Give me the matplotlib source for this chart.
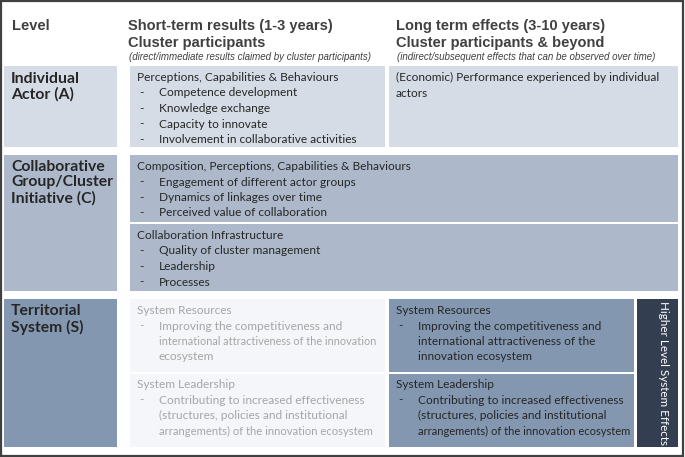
import matplotlib
matplotlib.use("Agg")
import matplotlib.pyplot as plt
from matplotlib.patches import Rectangle

# ---- content ----
level_header = "Level"
short_header = ["Short-term results (1-3 years)", "Cluster participants"]
short_note = "(direct/immediate results claimed by cluster participants)"
long_header = ["Long term effects (3-10 years)", "Cluster participants & beyond"]
long_note = "(indirect/subsequent effects that can be observed over time)"

level_labels = ["Individual\nActor (A)", "Collaborative\nGroup/Cluster\nInitiative (C)", "Territorial\nSystem (S)"]

a_short_title = "Perceptions, Capabilities & Behaviours"
a_short_items = ["Competence development", "Knowledge exchange", "Capacity to innovate",
                 "Involvement in collaborative activities"]
a_long_text = ["(Economic) Performance experienced by individual", "actors"]

c1_title = "Composition, Perceptions, Capabilities & Behaviours"
c1_items = ["Engagement of different actor groups", "Dynamics of linkages over time",
            "Perceived value of collaboration"]
c2_title = "Collaboration Infrastructure"
c2_items = ["Quality of cluster management", "Leadership", "Processes"]

s1_title = "System Resources"
s1_left_items = [["Improving the competitiveness and",
                  "international attractiveness of the innovation", "ecosystem"]]
s1_right_items = [["Improving the competitiveness and",
                   "international attractiveness of the", "innovation ecosystem"]]
s2_title = "System Leadership"
s2_items = [["Contributing to increased effectiveness",
             "(structures, policies and institutional",
             "arrangements) of the innovation ecosystem"]]
side_label = "Higher Level System Effects"

# ---- colours ----
c_light = "#d6dce5"
c_mid = "#adb9ca"
c_dark = "#8497b0"
c_faded = "#f4f6f9"
c_navy = "#333f50"
txt = "#262626"
faded_txt = "#a6a6a6"
head_col = "#404040"

W, H = 685, 457
fig = plt.figure(figsize=(W / 100, H / 100), dpi=100)
ax = fig.add_axes([0, 0, 1, 1])
ax.set_xlim(0, W)
ax.set_ylim(H, 0)
ax.axis("off")
renderer = fig.canvas.get_renderer()

body_font = "Lato"
head_font = "Liberation Sans"
FS = 8.6
LH = 15.5
LAB_FS = 11.3


def box(x0, y0, x1, y1, color):
    ax.add_patch(Rectangle((x0, y0), x1 - x0, y1 - y0, facecolor=color, edgecolor="none"))


def fit_text(x, y, s, xmax, color):
    t = ax.text(x, y, s, fontsize=FS, family=body_font, color=color, va="top", ha="left")
    bb = t.get_window_extent(renderer)
    avail = xmax - x
    if bb.width > avail:
        t.set_fontsize(FS * avail / bb.width)
    return t


def block(x, y, title, items, xmax, color=txt):
    fit_text(x, y, title, xmax, color)
    yy = y + LH
    for it in items:
        lines = it if isinstance(it, list) else [it]
        ax.text(x + 2, yy, "-", fontsize=FS, family=body_font, color=color, va="top", ha="left")
        for ln in lines:
            fit_text(x + 22, yy, ln, xmax, color)
            yy += LH


def label(y, s):
    ax.text(11, y, s, fontsize=LAB_FS, family=body_font, weight="bold", color=txt,
            va="top", linespacing=1.12)


# outer frame
ax.add_patch(Rectangle((1, 1), W - 2.5, H - 2.5, facecolor="white", edgecolor=head_col, linewidth=1.6))

# headers
ax.text(12, 19, level_header, fontsize=10.5, family=head_font, weight="bold", color=head_col, va="top")
for x0, hdr, note in [(128, short_header, short_note), (396, long_header, long_note)]:
    ax.text(x0, 19, hdr[0], fontsize=10.5, family=head_font, weight="bold", color=head_col, va="top")
    ax.text(x0, 36, hdr[1], fontsize=10.5, family=head_font, weight="bold", color=head_col, va="top")
    ax.text(x0 + 1, 52, note, fontsize=7.05, family=head_font, style="italic", color=head_col, va="top")

# row A
box(4, 66, 117, 147, c_light)
box(130, 66, 385, 147, c_light)
box(389, 66, 678, 147, c_light)
label(72, level_labels[0])
block(137, 72, a_short_title, a_short_items, 380)
ax.text(396, 72, "\n".join(a_long_text), fontsize=FS, family=body_font, color=txt, va="top",
        linespacing=1.5)

# row C
box(4, 155, 117, 291, c_mid)
box(130, 155, 678, 222, c_mid)
box(130, 224, 678, 291, c_mid)
label(160, level_labels[1])
block(137, 161, c1_title, c1_items, 670)
block(137, 230, c2_title, c2_items, 670)

# row S
box(4, 299, 117, 447, c_dark)
box(130, 299, 385, 372, c_faded)
box(130, 374, 385, 447, c_faded)
box(389, 299, 634, 372, c_dark)
box(389, 374, 634, 447, c_dark)
box(637, 299, 678, 447, c_navy)
label(304, level_labels[2])
block(137, 305, s1_title, s1_left_items, 373, color=faded_txt)
block(137, 379, s2_title, s2_items, 373, color=faded_txt)
block(396, 305, s1_title, s1_right_items, 629)
block(396, 379, s2_title, s2_items, 629)
ax.text(664, 373, side_label, fontsize=8.4, family=body_font, color="white", rotation=-90,
        ha="center", va="center")

fig.savefig("out.png", dpi=100)
